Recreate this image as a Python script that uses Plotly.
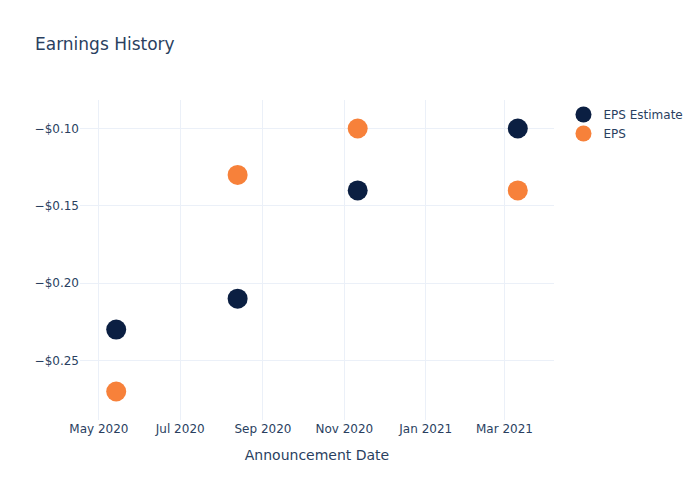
import plotly.graph_objects as go

dates = ["2020-05-14", "2020-08-13", "2020-11-11", "2021-03-11"]
eps_estimate = [-0.23, -0.21, -0.14, -0.10]
eps_actual = [-0.27, -0.13, -0.10, -0.14]

fig = go.Figure()
fig.add_trace(go.Scatter(x=dates, y=eps_estimate, mode="markers", name="EPS Estimate",
                         marker=dict(color="#0b1f42", size=20)))
fig.add_trace(go.Scatter(x=dates, y=eps_actual, mode="markers", name="EPS",
                         marker=dict(color="#f7813a", size=20)))
fig.update_layout(
    template="plotly_white",
    width=700, height=500,
    font=dict(family="DejaVu Sans"),
    title=dict(text="Earnings History"),
    xaxis=dict(title=dict(text="Announcement Date"), dtick="M2", tickformat="%b %Y"),
    yaxis=dict(tickformat="$.2f", dtick=0.05),
)
fig.write_html("out.html")
